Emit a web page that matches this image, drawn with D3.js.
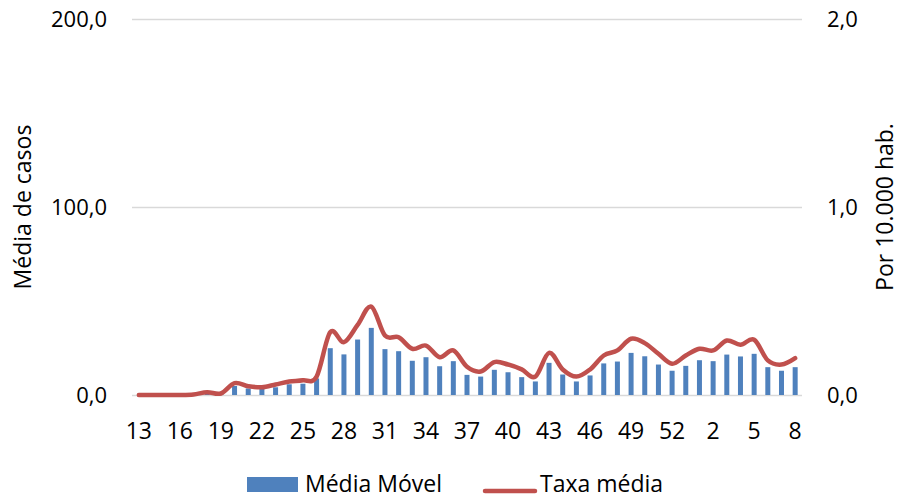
<!DOCTYPE html>
<html>
<head>
<meta charset="utf-8">
<script src="https://cdn.jsdelivr.net/npm/d3@7"></script>
<style>
  html, body { margin: 0; padding: 0; background: #fff; }
  svg { display: block; }
  text { font-family: "Open Sans", "Noto Sans", sans-serif; fill: #000; }
</style>
</head>
<body>
<svg id="chart" width="900" height="499"></svg>
<script>
// Epidemiological weeks (2020 weeks 13–53, then 2021 weeks 1–8)
const weeks = [13,14,15,16,17,18,19,20,21,22,23,24,25,26,27,28,29,30,31,32,33,34,35,36,37,38,39,40,41,42,43,44,45,46,47,48,49,50,51,52,53,1,2,3,4,5,6,7,8];

// Moving average of cases (left axis)
const mediaMovel = [0,0,0,0,0.3,1.1,0.6,4.8,3.5,3.2,4.1,5.7,6.0,8.8,24.9,21.6,29.5,35.7,24.4,23.3,18.2,20.1,15.3,18.0,10.7,9.8,13.4,12.1,9.5,7.2,17.1,10.9,7.2,10.4,16.8,17.8,22.4,20.6,16.2,12.9,15.5,18.5,18.0,21.5,20.5,21.9,14.8,12.9,14.8];

// Average rate per 10,000 inhabitants (right axis)
const taxaMedia = [0,0,0,0,0.003,0.015,0.008,0.063,0.047,0.041,0.056,0.072,0.078,0.098,0.334,0.281,0.373,0.47,0.316,0.307,0.246,0.263,0.201,0.237,0.150,0.125,0.175,0.162,0.136,0.098,0.224,0.136,0.098,0.136,0.210,0.237,0.299,0.276,0.219,0.166,0.210,0.246,0.237,0.290,0.267,0.294,0.184,0.162,0.196];

const leftTicks = [0, 100, 200];
const rightTicks = [0, 1, 2];
const xTickWeeks = [13,16,19,22,25,28,31,34,37,40,43,46,49,52,2,5,8];

const seriesNames = ["Média Móvel", "Taxa média"];
const axisTitles = ["Média de casos", "Por 10.000 hab."];

const BAR = "#4F81BD", LINE = "#C0504D", GRID = "#D9D9D9";
const FS_NUM = 22;   // tick labels
const FS_TXT = 23;   // titles and legend

const svg = d3.select("#chart");
const plotL = 132, plotR = 802, plotT = 19, plotB = 395;

const x = d3.scaleBand().domain(weeks.map(String)).range([plotL, plotR]).padding(0);
const y = d3.scaleLinear().domain([0, 200]).range([plotB, plotT]);
const y2 = d3.scaleLinear().domain([0, 2]).range([plotB, plotT]);
const fmt = d => d3.format(".1f")(d).replace(".", ",");

// Gridlines
svg.append("g")
  .attr("transform", `translate(${plotL},0)`)
  .call(d3.axisLeft(y).tickValues(leftTicks).tickSize(-(plotR - plotL)).tickFormat(""))
  .call(g => g.select(".domain").remove())
  .call(g => g.selectAll("line").attr("stroke", GRID).attr("stroke-width", 1.3));

// Left axis labels
svg.append("g")
  .attr("transform", `translate(${plotL},0)`)
  .call(d3.axisLeft(y).tickValues(leftTicks).tickSize(0).tickPadding(25).tickFormat(fmt))
  .call(g => g.select(".domain").remove())
  .call(g => g.selectAll("text").style("font-size", FS_NUM + "px").attr("fill", "#000"));

// Right axis labels
svg.append("g")
  .attr("transform", `translate(${plotR},0)`)
  .call(d3.axisRight(y2).tickValues(rightTicks).tickSize(0).tickPadding(25).tickFormat(fmt))
  .call(g => g.select(".domain").remove())
  .call(g => g.selectAll("text").style("font-size", FS_NUM + "px").attr("fill", "#000"));

// Bottom axis labels
svg.append("g")
  .attr("transform", `translate(0,${plotB})`)
  .call(d3.axisBottom(x).tickValues(xTickWeeks.map(String)).tickSize(0).tickPadding(28))
  .call(g => g.select(".domain").remove())
  .call(g => g.selectAll("text").style("font-size", (FS_NUM + 1) + "px").attr("fill", "#000"));

// Bars
const barW = 5;
svg.append("g").selectAll("rect")
  .data(weeks.map((w, i) => ({ w: String(w), v: mediaMovel[i] })))
  .join("rect")
  .attr("x", d => x(d.w) + x.bandwidth() / 2 - barW / 2)
  .attr("y", d => y(d.v))
  .attr("width", barW)
  .attr("height", d => y(0) - y(d.v))
  .attr("fill", BAR);

// Rate line (smoothed)
const line = d3.line()
  .x((d, i) => x(String(weeks[i])) + x.bandwidth() / 2)
  .y(d => y2(d))
  .curve(d3.curveCatmullRom.alpha(0));
svg.append("path")
  .datum(taxaMedia)
  .attr("d", line)
  .attr("fill", "none")
  .attr("stroke", LINE)
  .attr("stroke-width", 4.5)
  .attr("stroke-linecap", "round")
  .attr("stroke-linejoin", "round");

// Axis titles
svg.append("text")
  .attr("transform", `translate(31,207) rotate(-90)`)
  .attr("text-anchor", "middle")
  .style("font-size", FS_TXT + "px")
  .text(axisTitles[0]);
svg.append("text")
  .attr("transform", `translate(893,207) rotate(-90)`)
  .attr("text-anchor", "middle")
  .style("font-size", FS_TXT + "px")
  .text(axisTitles[1]);

// Legend
const lg = svg.append("g");
lg.append("rect").attr("x", 247).attr("y", 477).attr("width", 51).attr("height", 15).attr("fill", BAR);
lg.append("text").attr("x", 305).attr("y", 492).style("font-size", FS_TXT + "px").text(seriesNames[0]);
lg.append("line").attr("x1", 485).attr("x2", 535).attr("y1", 491).attr("y2", 491)
  .attr("stroke", LINE).attr("stroke-width", 4.5).attr("stroke-linecap", "round");
lg.append("text").attr("x", 540).attr("y", 492).style("font-size", FS_TXT + "px").text(seriesNames[1]);
</script>
</body>
</html>
